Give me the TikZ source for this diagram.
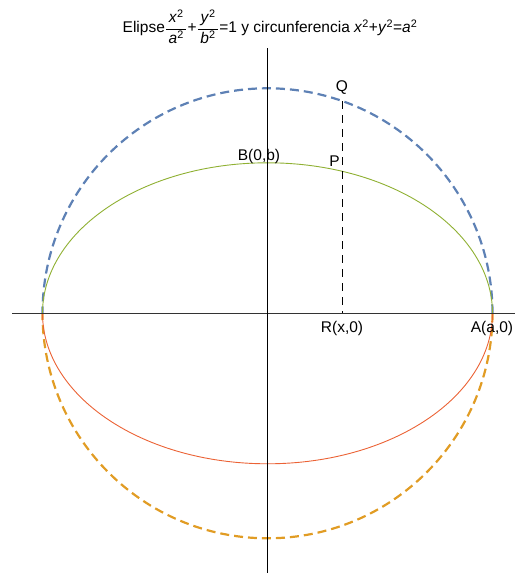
\documentclass[tikz,border=0pt]{standalone}
\usepackage{fontspec}
\setmainfont{Liberation Sans}
\usepackage{amsmath}
\definecolor{mblue}{rgb}{0.368417,0.506779,0.709798}
\definecolor{morange}{rgb}{0.880722,0.611041,0.142051}
\definecolor{mgreen}{rgb}{0.560181,0.691569,0.194885}
\definecolor{mred}{rgb}{0.922526,0.385626,0.209179}
\tikzset{
  axisline/.style={line width=0.9pt, black!80},
  ellcurve/.style={line width=0.9pt},
  circcurve/.style={line width=2.2pt, dash pattern=on 9pt off 5pt},
  guide/.style={line width=0.8pt, black, dash pattern=on 8pt off 6pt},
  lab/.style={font=\fontsize{15.5}{17}\selectfont, inner sep=0pt},
}
\newcommand{\itsup}[1]{\textit{#1}\textsuperscript{\upshape 2}}
\newcommand{\myfrac}[2]{$\displaystyle\frac{\text{\,\itsup{#1}\,}}{\text{\,\itsup{#2}\,}}$}
\begin{document}
\begin{tikzpicture}[x=1pt,y=1pt]
\useasboundingbox (0,0) rectangle (520,573);
\coordinate (O) at (267.5,259.7);
\coordinate (A) at (492.5,259.7);
\coordinate (L) at (42.5,259.7);
\coordinate (Q) at (342.7,471.8);
\coordinate (R) at (342.7,259.7);
\coordinate (xl) at (12,259.7);
\coordinate (xr) at (515,259.7);
\coordinate (yb) at (267.5,0);
\coordinate (yt) at (267.5,525);
% circle
\draw[circcurve, mblue] (A) arc[start angle=0, end angle=180, radius=225];
\draw[circcurve, morange] (A) arc[start angle=0, end angle=-180, radius=225];
% ellipse
\draw[ellcurve, mgreen] (A) arc[start angle=0, end angle=180, x radius=225, y radius=150.5];
\draw[ellcurve, mred] (A) arc[start angle=0, end angle=-180, x radius=225, y radius=150.5];
% axes
\draw[axisline] (xl) -- (xr);
\draw[axisline, black] (yb) -- (yt);
% guide
\draw[guide] (Q) -- (R);
% labels
\node[lab] (lQ) at (342,485) {Q};
\node[lab] (lP) at (334.5,412) {P};
\node[lab] (lB) at (259,417) {B(0,b)};
\node[lab] (lR) at (342,245) {R(x,0)};
\node[lab] (lA) at (492,245) {A(a,0)};
\node[font=\fontsize{15.5}{17}\selectfont, inner sep=0pt] (title) at (270,546)
  {Elipse\myfrac{x}{a}+\myfrac{y}{b}=1 y circunferencia \itsup{x}+\itsup{y}=\itsup{a}};
\end{tikzpicture}
\end{document}
